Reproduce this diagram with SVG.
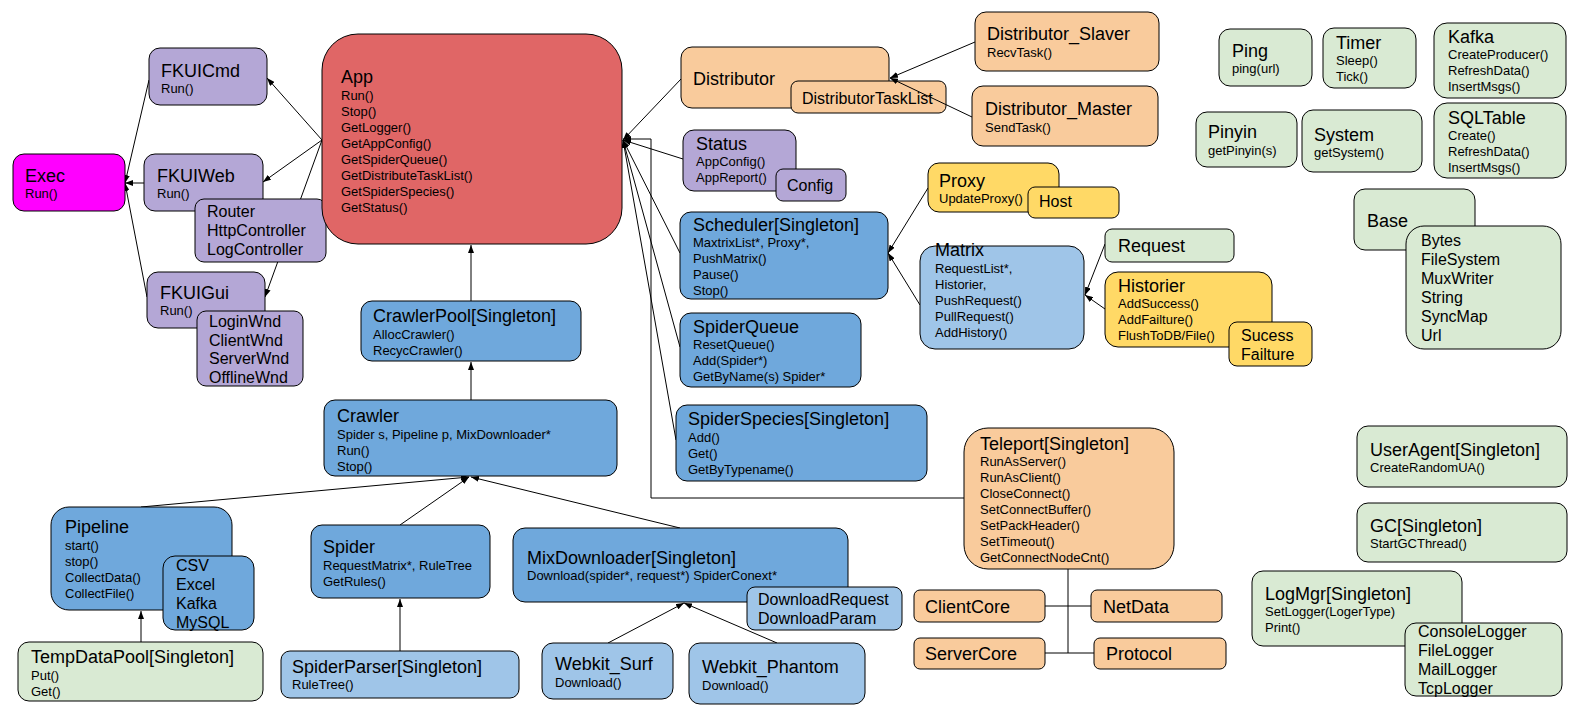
<svg xmlns="http://www.w3.org/2000/svg" width="1578" height="715" viewBox="0 0 1578 715">
<style>
text{font-family:"Liberation Sans",Arial,sans-serif;fill:#000}
.t{font-size:18px}
.m{font-size:13px}
.s{font-size:16px}
rect{stroke:#000;stroke-width:1}
.pu{fill:#b4a7d6}.rd{fill:#e06666}.mg{fill:#ff00ff}.or{fill:#f9cb9c}.bl{fill:#6fa8dc}.lb{fill:#9fc5e8}.ye{fill:#ffd966}.gr{fill:#d9ead3}
#connectors path{fill:none;stroke:#000;stroke-width:1}
</style>
<defs>
<marker id="ah" markerWidth="8" markerHeight="6" refX="8" refY="3" orient="auto" markerUnits="userSpaceOnUse"><path d="M0,0 L8,3 L0,6 z" fill="#000"/></marker>
</defs>
<rect width="1578" height="715" fill="#fff" style="stroke:none"/>

<g id="Distributor">
<rect class="or" x="681" y="47" width="208" height="61" rx="11"/>
<text class="t" x="693" y="85">Distributor</text>
<rect class="or" x="791" y="81" width="155" height="32" rx="7"/>
<text class="s" x="802" y="104">DistributorTaskList</text>
</g>

<g id="connectors">
<path d="M322,140 L267,78" marker-end="url(#ah)"/>
<path d="M322,140 L263,182" marker-end="url(#ah)"/>
<path d="M322,140 L265,297" marker-end="url(#ah)"/>
<path d="M149,80 L125,183" marker-end="url(#ah)"/>
<path d="M144,183 L125,183" marker-end="url(#ah)"/>
<path d="M147,297 L125,183" marker-end="url(#ah)"/>
<path d="M471,301 L471,245" marker-end="url(#ah)"/>
<path d="M471,400 L471,362" marker-end="url(#ah)"/>
<path d="M141,507 L469,477" marker-end="url(#ah)"/>
<path d="M400,525 L469,477" marker-end="url(#ah)"/>
<path d="M680,528 L471,477" marker-end="url(#ah)"/>
<path d="M141,642 L141,611" marker-end="url(#ah)"/>
<path d="M400,651 L400,599" marker-end="url(#ah)"/>
<path d="M608,643 L684,603" marker-end="url(#ah)"/>
<path d="M777,643 L684,603" marker-end="url(#ah)"/>
<path d="M681,79 L623,140" marker-end="url(#ah)"/>
<path d="M683,159 L623,140" marker-end="url(#ah)"/>
<path d="M680,253 L623,140" marker-end="url(#ah)"/>
<path d="M680,347 L623,140" marker-end="url(#ah)"/>
<path d="M676,440 L623,140" marker-end="url(#ah)"/>
<path d="M964,498 H651 V139 H623" marker-end="url(#ah)"/>
<path d="M975,42 L890,78" marker-end="url(#ah)"/>
<path d="M972,117 L890,78" marker-end="url(#ah)"/>
<path d="M928,188 L888,253" marker-end="url(#ah)"/>
<path d="M920,305 L888,253" marker-end="url(#ah)"/>
<path d="M1105,244 L1085,295" marker-end="url(#ah)"/>
<path d="M1105,309 L1085,295" marker-end="url(#ah)"/>
<path d="M1068,569 V653"/>
<path d="M1045,606 H1091"/>
<path d="M1045,653 H1094"/>
</g>

<g id="Exec">
<rect class="mg" x="13" y="154" width="112" height="57" rx="11"/>
<text class="t" x="25" y="182">Exec</text>
<text class="m" x="25" y="198">Run()</text>
</g>
<g id="FKUICmd">
<rect class="pu" x="149" y="48" width="118" height="57" rx="11"/>
<text class="t" x="161" y="77">FKUICmd</text>
<text class="m" x="161" y="93">Run()</text>
</g>
<g id="FKUIWeb">
<rect class="pu" x="144" y="154" width="119" height="57" rx="11"/>
<text class="t" x="157" y="182">FKUIWeb</text>
<text class="m" x="157" y="198">Run()</text>
<rect class="pu" x="195" y="199" width="131" height="63" rx="9"/>
<text class="s" x="207" y="217">Router</text>
<text class="s" x="207" y="236">HttpController</text>
<text class="s" x="207" y="255">LogController</text>
</g>
<g id="FKUIGui">
<rect class="pu" x="147" y="272" width="118" height="56" rx="11"/>
<text class="t" x="160" y="299">FKUIGui</text>
<text class="m" x="160" y="315">Run()</text>
<rect class="pu" x="197" y="311" width="106" height="75" rx="9"/>
<text class="s" x="209" y="327">LoginWnd</text>
<text class="s" x="209" y="346">ClientWnd</text>
<text class="s" x="209" y="364">ServerWnd</text>
<text class="s" x="209" y="383">OfflineWnd</text>
</g>
<g id="App">
<rect class="rd" x="322" y="34" width="300" height="210" rx="36"/>
<text class="t" x="341" y="83">App</text>
<text class="m" x="341" y="100">Run()</text>
<text class="m" x="341" y="116">Stop()</text>
<text class="m" x="341" y="132">GetLogger()</text>
<text class="m" x="341" y="148">GetAppConfig()</text>
<text class="m" x="341" y="164">GetSpiderQueue()</text>
<text class="m" x="341" y="180">GetDistributeTaskList()</text>
<text class="m" x="341" y="196">GetSpiderSpecies()</text>
<text class="m" x="341" y="212">GetStatus()</text>
</g>
<g id="CrawlerPool">
<rect class="bl" x="361" y="301" width="220" height="60" rx="11"/>
<text class="t" x="373" y="322">CrawlerPool[Singleton]</text>
<text class="m" x="373" y="339">AllocCrawler()</text>
<text class="m" x="373" y="355">RecycCrawler()</text>
</g>
<g id="Crawler">
<rect class="bl" x="324" y="400" width="293" height="76" rx="11"/>
<text class="t" x="337" y="422">Crawler</text>
<text class="m" x="337" y="439">Spider s, Pipeline p, MixDownloader*</text>
<text class="m" x="337" y="455">Run()</text>
<text class="m" x="337" y="471">Stop()</text>
</g>
<g id="Pipeline">
<rect class="bl" x="51" y="507" width="181" height="103" rx="18"/>
<text class="t" x="65" y="533">Pipeline</text>
<text class="m" x="65" y="550">start()</text>
<text class="m" x="65" y="566">stop()</text>
<text class="m" x="65" y="582">CollectData()</text>
<text class="m" x="65" y="598">CollectFile()</text>
<rect class="bl" x="163" y="556" width="91" height="74" rx="12"/>
<text class="s" x="176" y="571">CSV</text>
<text class="s" x="176" y="590">Excel</text>
<text class="s" x="176" y="609">Kafka</text>
<text class="s" x="176" y="628">MySQL</text>
</g>
<g id="TempDataPool">
<rect class="gr" x="18" y="642" width="245" height="59" rx="11"/>
<text class="t" x="31" y="663">TempDataPool[Singleton]</text>
<text class="m" x="31" y="680">Put()</text>
<text class="m" x="31" y="696">Get()</text>
</g>
<g id="Spider">
<rect class="bl" x="311" y="525" width="179" height="73" rx="11"/>
<text class="t" x="323" y="553">Spider</text>
<text class="m" x="323" y="570">RequestMatrix*, RuleTree</text>
<text class="m" x="323" y="586">GetRules()</text>
</g>
<g id="SpiderParser">
<rect class="lb" x="281" y="651" width="238" height="47" rx="9"/>
<text class="t" x="292" y="673">SpiderParser[Singleton]</text>
<text class="m" x="292" y="689">RuleTree()</text>
</g>
<g id="MixDownloader">
<rect class="bl" x="513" y="528" width="335" height="74" rx="12"/>
<text class="t" x="527" y="564">MixDownloader[Singleton]</text>
<text class="m" x="527" y="580">Download(spider*, request*) SpiderConext*</text>
<rect class="lb" x="747" y="587" width="155" height="43" rx="8"/>
<text class="s" x="758" y="605">DownloadRequest</text>
<text class="s" x="758" y="624">DownloadParam</text>
</g>
<g id="Webkit_Surf">
<rect class="lb" x="542" y="643" width="131" height="56" rx="11"/>
<text class="t" x="555" y="670">Webkit_Surf</text>
<text class="m" x="555" y="687">Download()</text>
</g>
<g id="Webkit_Phantom">
<rect class="lb" x="689" y="643" width="176" height="61" rx="11"/>
<text class="t" x="702" y="673">Webkit_Phantom</text>
<text class="m" x="702" y="690">Download()</text>
</g>
<g id="Distributor_Slaver">
<rect class="or" x="975" y="12" width="184" height="59" rx="11"/>
<text class="t" x="987" y="40">Distributor_Slaver</text>
<text class="m" x="987" y="57">RecvTask()</text>
</g>
<g id="Distributor_Master">
<rect class="or" x="972" y="86" width="186" height="60" rx="11"/>
<text class="t" x="985" y="115">Distributor_Master</text>
<text class="m" x="985" y="132">SendTask()</text>
</g>
<g id="Status">
<rect class="pu" x="683" y="130" width="113" height="61" rx="11"/>
<text class="t" x="696" y="150">Status</text>
<text class="m" x="696" y="166">AppConfig()</text>
<text class="m" x="696" y="182">AppReport()</text>
<rect class="pu" x="776" y="169" width="70" height="32" rx="7"/>
<text class="s" x="787" y="191">Config</text>
</g>
<g id="Proxy">
<rect class="ye" x="928" y="163" width="131" height="49" rx="11"/>
<text class="t" x="939" y="187">Proxy</text>
<text class="m" x="939" y="203">UpdateProxy()</text>
<rect class="ye" x="1028" y="187" width="91" height="31" rx="7"/>
<text class="s" x="1039" y="207">Host</text>
</g>
<g id="Scheduler">
<rect class="bl" x="680" y="212" width="208" height="87" rx="11"/>
<text class="t" x="693" y="231">Scheduler[Singleton]</text>
<text class="m" x="693" y="247">MaxtrixList*, Proxy*,</text>
<text class="m" x="693" y="263">PushMatrix()</text>
<text class="m" x="693" y="279">Pause()</text>
<text class="m" x="693" y="295">Stop()</text>
</g>
<g id="Matrix">
<rect class="lb" x="920" y="246" width="164" height="103" rx="15"/>
<text class="t" x="935" y="256">Matrix</text>
<text class="m" x="935" y="273">RequestList*,</text>
<text class="m" x="935" y="289">Historier,</text>
<text class="m" x="935" y="305">PushRequest()</text>
<text class="m" x="935" y="321">PullRequest()</text>
<text class="m" x="935" y="337">AddHistory()</text>
</g>
<g id="Request">
<rect class="gr" x="1105" y="229" width="129" height="33" rx="7"/>
<text class="t" x="1118" y="252">Request</text>
</g>
<g id="Historier">
<rect class="ye" x="1105" y="272" width="167" height="75" rx="13"/>
<text class="t" x="1118" y="292">Historier</text>
<text class="m" x="1118" y="308">AddSuccess()</text>
<text class="m" x="1118" y="324">AddFailture()</text>
<text class="m" x="1118" y="340">FlushToDB/File()</text>
<rect class="ye" x="1229" y="322" width="83" height="44" rx="8"/>
<text class="s" x="1241" y="341">Sucess</text>
<text class="s" x="1241" y="360">Failture</text>
</g>
<g id="SpiderQueue">
<rect class="bl" x="680" y="313" width="181" height="74" rx="11"/>
<text class="t" x="693" y="333">SpiderQueue</text>
<text class="m" x="693" y="349">ResetQueue()</text>
<text class="m" x="693" y="365">Add(Spider*)</text>
<text class="m" x="693" y="381">GetByName(s) Spider*</text>
</g>
<g id="SpiderSpecies">
<rect class="bl" x="676" y="405" width="251" height="76" rx="11"/>
<text class="t" x="688" y="425">SpiderSpecies[Singleton]</text>
<text class="m" x="688" y="442">Add()</text>
<text class="m" x="688" y="458">Get()</text>
<text class="m" x="688" y="474">GetByTypename()</text>
</g>
<g id="Teleport">
<rect class="or" x="964" y="428" width="210" height="141" rx="24"/>
<text class="t" x="980" y="450">Teleport[Singleton]</text>
<text class="m" x="980" y="466">RunAsServer()</text>
<text class="m" x="980" y="482">RunAsClient()</text>
<text class="m" x="980" y="498">CloseConnect()</text>
<text class="m" x="980" y="514">SetConnectBuffer()</text>
<text class="m" x="980" y="530">SetPackHeader()</text>
<text class="m" x="980" y="546">SetTimeout()</text>
<text class="m" x="980" y="562">GetConnectNodeCnt()</text>
</g>
<g id="ClientCore">
<rect class="or" x="914" y="590" width="131" height="32" rx="6"/>
<text class="t" x="925" y="613">ClientCore</text>
</g>
<g id="NetData">
<rect class="or" x="1091" y="590" width="131" height="32" rx="6"/>
<text class="t" x="1103" y="613">NetData</text>
</g>
<g id="ServerCore">
<rect class="or" x="914" y="638" width="131" height="31" rx="6"/>
<text class="t" x="925" y="660">ServerCore</text>
</g>
<g id="Protocol">
<rect class="or" x="1094" y="638" width="132" height="31" rx="6"/>
<text class="t" x="1106" y="660">Protocol</text>
</g>
<g id="Ping">
<rect class="gr" x="1219" y="29" width="93" height="57" rx="11"/>
<text class="t" x="1232" y="57">Ping</text>
<text class="m" x="1232" y="73">ping(url)</text>
</g>
<g id="Timer">
<rect class="gr" x="1323" y="28" width="93" height="60" rx="11"/>
<text class="t" x="1336" y="49">Timer</text>
<text class="m" x="1336" y="65">Sleep()</text>
<text class="m" x="1336" y="81">Tick()</text>
</g>
<g id="Kafka">
<rect class="gr" x="1434" y="23" width="132" height="75" rx="13"/>
<text class="t" x="1448" y="43">Kafka</text>
<text class="m" x="1448" y="59">CreateProducer()</text>
<text class="m" x="1448" y="75">RefreshData()</text>
<text class="m" x="1448" y="91">InsertMsgs()</text>
</g>
<g id="Pinyin">
<rect class="gr" x="1196" y="112" width="101" height="55" rx="11"/>
<text class="t" x="1208" y="138">Pinyin</text>
<text class="m" x="1208" y="155">getPinyin(s)</text>
</g>
<g id="System">
<rect class="gr" x="1302" y="110" width="120" height="62" rx="11"/>
<text class="t" x="1314" y="141">System</text>
<text class="m" x="1314" y="157">getSystem()</text>
</g>
<g id="SQLTable">
<rect class="gr" x="1434" y="103" width="132" height="75" rx="13"/>
<text class="t" x="1448" y="124">SQLTable</text>
<text class="m" x="1448" y="140">Create()</text>
<text class="m" x="1448" y="156">RefreshData()</text>
<text class="m" x="1448" y="172">InsertMsgs()</text>
</g>
<g id="Base">
<rect class="gr" x="1354" y="189" width="121" height="61" rx="11"/>
<text class="t" x="1367" y="227">Base</text>
<rect class="gr" x="1406" y="226" width="155" height="123" rx="18"/>
<text class="s" x="1421" y="246">Bytes</text>
<text class="s" x="1421" y="265">FileSystem</text>
<text class="s" x="1421" y="284">MuxWriter</text>
<text class="s" x="1421" y="303">String</text>
<text class="s" x="1421" y="322">SyncMap</text>
<text class="s" x="1421" y="341">Url</text>
</g>
<g id="UserAgent">
<rect class="gr" x="1357" y="426" width="210" height="61" rx="11"/>
<text class="t" x="1370" y="456">UserAgent[Singleton]</text>
<text class="m" x="1370" y="472">CreateRandomUA()</text>
</g>
<g id="GC">
<rect class="gr" x="1357" y="503" width="210" height="59" rx="11"/>
<text class="t" x="1370" y="532">GC[Singleton]</text>
<text class="m" x="1370" y="548">StartGCThread()</text>
</g>
<g id="LogMgr">
<rect class="gr" x="1252" y="571" width="210" height="75" rx="11"/>
<text class="t" x="1265" y="600">LogMgr[Singleton]</text>
<text class="m" x="1265" y="616">SetLogger(LogerType)</text>
<text class="m" x="1265" y="632">Print()</text>
<rect class="gr" x="1405" y="623" width="157" height="73" rx="11"/>
<text class="s" x="1418" y="637">ConsoleLogger</text>
<text class="s" x="1418" y="656">FileLogger</text>
<text class="s" x="1418" y="675">MailLogger</text>
<text class="s" x="1418" y="694">TcpLogger</text>
</g>
</svg>
